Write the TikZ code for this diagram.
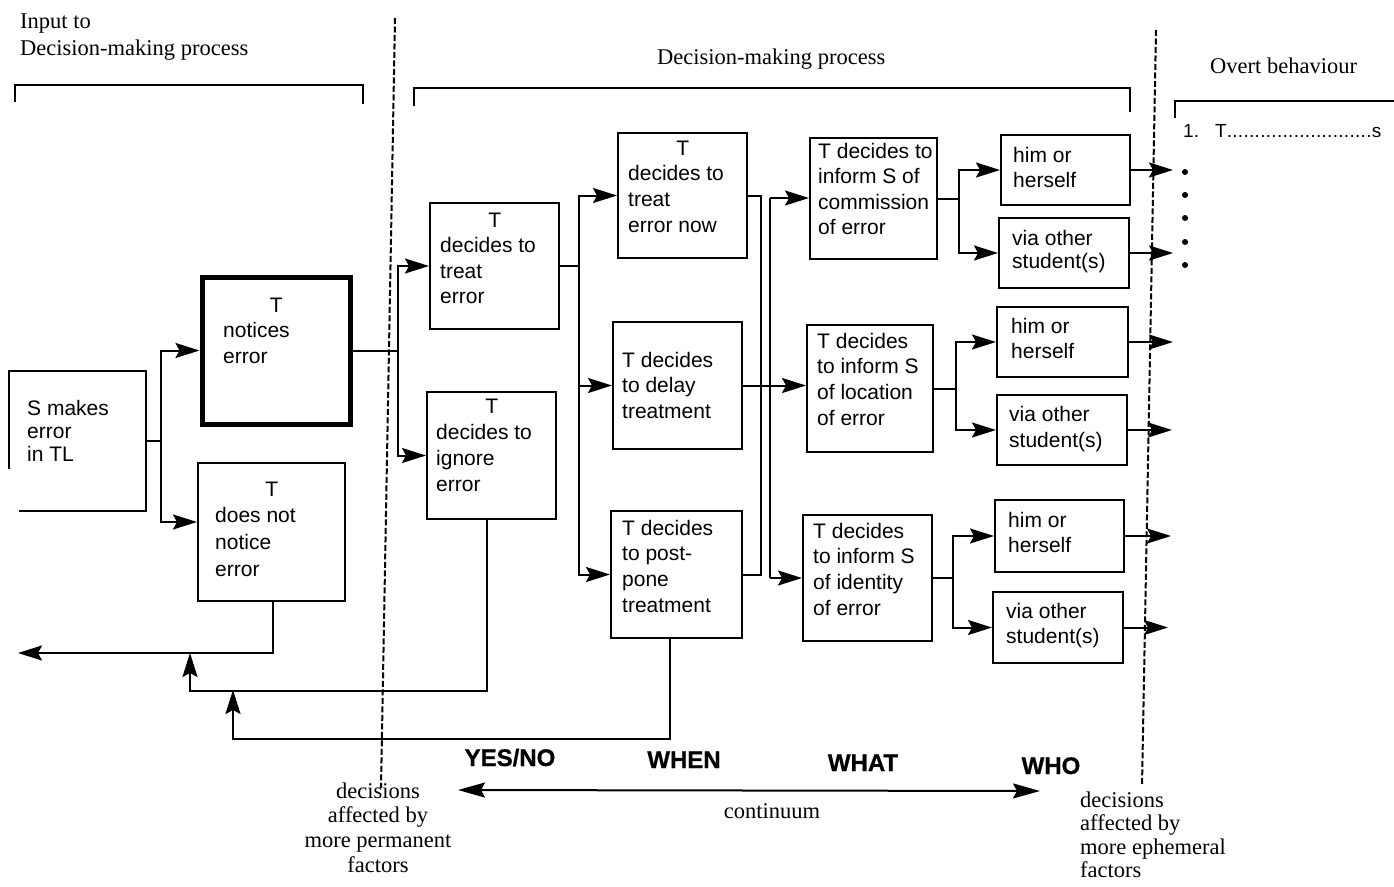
\documentclass[tikz,border=0pt]{standalone}
\usepackage{fontspec}
\setmainfont{Liberation Serif}
\setsansfont{Liberation Sans}
\newfontfamily\heavy{Liberation Sans}[BoldFeatures={FakeBold=0.8}]
\usetikzlibrary{arrows.meta,calc}
\newcommand\bt{\sffamily\fontsize{21}{25.5}\selectfont}
\newcommand\sr{\rmfamily\fontsize{22.5}{25}\selectfont}
\newcommand\mkbox[6][]{\node[bx,#1,minimum width={(#5-#3)*1pt},minimum height={(#6-#4)*1pt}] (#2) at ({(#3+#5)/2},{(#4+#6)/2}) {};}
\newcommand\mktxt[5]{\node[anchor=base west,inner sep=0pt] (#1) at (#2,#3) {\begin{minipage}[t]{#4pt}\bt\raggedright #5\end{minipage}};}
\begin{document}
\begin{tikzpicture}[x=1pt,y=-1pt,
  bx/.style={draw,line width=2pt,inner sep=0pt},
  ln/.style={line width=2pt},
  arr/.style={line width=2pt,-{Stealth[length=24pt,width=15pt,inset=4pt]}},
  dbl/.style={line width=2pt,{Stealth[length=27pt,width=15pt,inset=4pt]}-{Stealth[length=27pt,width=15pt,inset=4pt]}},
  dsh/.style={line width=2pt,dash pattern=on 6pt off 2.5pt},
  caps/.style={font={\heavy\bfseries\fontsize{24}{28}\selectfont},inner sep=0pt,anchor=base}]
\useasboundingbox (0,0) rectangle (1394,886);

% titles
\node[anchor=base west,inner sep=0pt] (ttl1) at (20,28) {\begin{minipage}[t]{300pt}\sr\baselineskip=27pt Input to\\Decision-making process\end{minipage}};
\node[anchor=base west,inner sep=0pt] (ttl2) at (657,64) {\sr Decision-making process};
\node[anchor=base west,inner sep=0pt] (ttl3) at (1210,73) {\sr Overt behaviour};

% brackets
\draw[line width=2pt] (15,102) -- (15,85) -- (363,85) -- (363,104);
\draw[line width=2pt] (414,106) -- (414,88) -- (1130,88) -- (1130,112);
\draw[line width=2pt] (1175,118) -- (1175,101) -- (1394,101);

% dashed separators
\draw[dsh] (395,18) -- (381,788);
\draw[dsh] (1156,30) -- (1142,786);

% boxes
\mkbox[draw=none]{s}{10}{372}{145}{510}
\draw[ln] ([yshift=-98pt]s.north west) -- (s.north west) -- (s.north east) -- (s.south east) -- ([xshift=10pt]s.south west);
\mkbox[line width=5pt]{no}{202}{277}{350}{424}
\mkbox{dn}{198}{463}{345}{601}
\mkbox{te}{430}{203}{559}{329}
\mkbox{ig}{427}{392}{556}{519}
\mkbox{tn}{618}{133}{747}{258}
\mkbox{dl}{613}{322}{742}{449}
\mkbox{pp}{611}{511}{742}{638}
\mkbox{cm}{810}{138}{937}{259}
\mkbox{lc}{807}{325}{933}{452}
\mkbox{id}{803}{515}{932}{641}
\mkbox{ha}{1001}{135}{1130}{205}
\mkbox{va}{999}{218}{1129}{288}
\mkbox{hb}{997}{307}{1128}{377}
\mkbox{vb}{997}{395}{1127}{465}
\mkbox{hc}{995}{500}{1124}{572}
\mkbox{vc}{993}{592}{1123}{663}

% box texts
\mktxt{s-t}{27}{415}{115}{\fontsize{21}{23}\selectfont S makes\\error\\in TL}
\mktxt{no-t}{223}{312}{106}{\centering T\par\raggedright notices\\error}
\mktxt{dn-t}{215}{496}{113}{\fontsize{21}{26.7}\selectfont\centering T\par\raggedright does not\\notice\\error}
\mktxt{te-t}{440}{227}{109}{\centering T\par\raggedright decides to\\treat\\error}
\mktxt{ig-t}{436}{413}{111}{\fontsize{21}{26.3}\selectfont\centering T\par\raggedright decides to\\ignore\\error}
\mktxt{tn-t}{628}{155}{109}{\fontsize{21}{25.7}\selectfont\centering T\par\raggedright decides to\\treat\\error now}
\mktxt{dl-t}{622}{367}{140}{T decides\\to delay\\treatment}
\mktxt{pp-t}{622}{535}{140}{\fontsize{21}{25.7}\selectfont T decides\\to post-\\pone\\treatment}
\mktxt{cm-t}{818}{158}{140}{T decides to\\inform S of\\commission\\of error}
\mktxt{lc-t}{817}{348}{140}{\fontsize{21}{25.7}\selectfont T decides\\to inform S\\of location\\of error}
\mktxt{id-t}{813}{538}{140}{\fontsize{21}{25.7}\selectfont T decides\\to inform S\\of identity\\of error}
\mktxt{ha-t}{1013}{162}{120}{him or\\herself}
\mktxt{va-t}{1012}{245}{120}{\fontsize{21}{23.5}\selectfont via other\\student(s)}
\mktxt{hb-t}{1011}{333}{120}{him or\\herself}
\mktxt{vb-t}{1009}{421}{120}{\fontsize{21}{26.5}\selectfont via other\\student(s)}
\mktxt{hc-t}{1008}{527}{120}{him or\\herself}
\mktxt{vc-t}{1006}{618}{120}{via other\\student(s)}

% connectors: input
\draw[arr] (s.east) -- ++(15,0) |- (no.west);
\draw[arr] (s.east) -- ++(15,0) |- ([yshift=10pt]dn.west);
\draw[arr] (no.east) -- ++(45,0) |- (te.west);
\draw[arr] (no.east) -- ++(45,0) |- (ig.west);
% yes/no -> when
\draw[arr] (te.east) -- ++(19,0) |- (tn.west);
\draw[arr] (te.east) -- ++(19,0) |- (dl.west);
\draw[arr] (te.east) -- ++(19,0) |- (pp.west);
% when -> what
\coordinate (b2t) at (770,198);
\coordinate (b2b) at (770,578);
\draw[ln] (tn.east) -- ++(13,0) |- (pp.east);
\draw[ln] (b2t) -- (b2b);
\draw[arr] (b2t) -- (b2t -| cm.west);
\draw[arr] (dl.east) -- (dl.east -| lc.west);
\draw[arr] (b2b) -- (b2b -| id.west);
% what -> who
\draw[arr] (cm.east) -- ++(21,0) |- (ha.west);
\draw[arr] (cm.east) -- ++(21,0) |- (va.west);
\draw[arr] (lc.east) -- ++(22,0) |- (hb.west);
\draw[arr] (lc.east) -- ++(22,0) |- (vb.west);
\draw[arr] (id.east) -- ++(20,0) |- (hc.west);
\draw[arr] (id.east) -- ++(20,0) |- (vc.west);
% who -> overt
\draw[arr] (ha.east) -- ++(42,0);
\draw[arr] (va.east) -- ++(43,0);
\draw[arr] (hb.east) -- ++(44,0);
\draw[arr] (vb.east) -- ++(44,0);
\draw[arr] (hc.east) -- ++(46,0);
\draw[arr] (vc.east) -- ++(44,0);

% feedback
\coordinate (fbl) at (18,653);
\coordinate (fb1) at (190,653);
\coordinate (fb2) at (233,690);
\draw[arr] ([xshift=1.5pt]dn.south) |- (fbl);
\draw[arr] ([xshift=-4.5pt]ig.south) -- ++(0,171) -| (fb1);
\draw[arr] ([xshift=-6.5pt]pp.south) -- ++(0,100) -| (fb2);

% overt behaviour
\node[anchor=base west,inner sep=0pt,font={\sffamily\fontsize{19}{22}\selectfont}] (ob) at (1183,137)
  {1.\hspace{16pt}T\makebox[145pt]{\xleaders\hbox to 5.5pt{\hss.\hss}\hfill}s};
\foreach \yy in {172,195,218,242,265} \fill (1185,\yy) circle[radius=3pt];

% bottom scale
\node[caps] (yn) at (510,766) {YES/NO};
\node[caps] (wn) at (684,768) {WHEN};
\node[caps] (wt) at (863,771) {WHAT};
\node[caps] (wo) at (1051,774) {WHO};
\coordinate (cl) at (458,790);
\coordinate (cr) at (1040,791);
\draw[dbl] (cl) -- (cr);
\node[anchor=base,inner sep=0pt] (cont) at (772,818) {\sr continuum};

\node[anchor=base,inner sep=0pt] (lp) at (378,798) {\begin{minipage}[t]{200pt}\sr\baselineskip=24.7pt\centering decisions\\affected by\\more permanent\\factors\end{minipage}};
\node[anchor=base west,inner sep=0pt] (rp) at (1080,807) {\begin{minipage}[t]{200pt}\sr\baselineskip=23.5pt decisions\\affected by\\more ephemeral\\factors\end{minipage}};
\end{tikzpicture}
\end{document}
